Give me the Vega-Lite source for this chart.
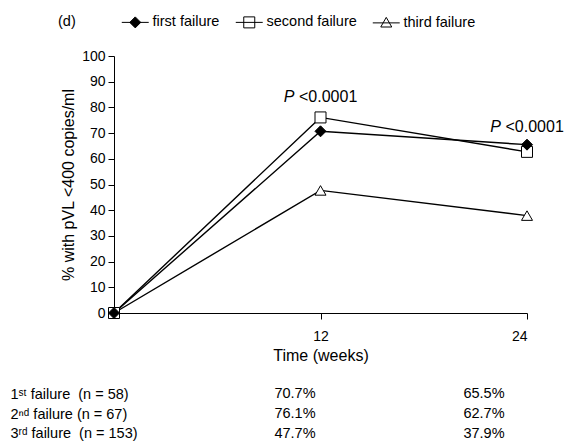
{
  "$schema": "https://vega.github.io/schema/vega-lite/v6.json",
  "padding": {"left": 10, "top": 15, "right": 3, "bottom": 3},
  "background": "white",
  "config": {
    "view": {"stroke": null},
    "font": "Liberation Sans",
    "axis": {
      "grid": false,
      "domainColor": "black",
      "tickColor": "black",
      "labelColor": "black",
      "titleColor": "black",
      "labelFontSize": 14,
      "titleFontSize": 16,
      "titleFontWeight": "normal",
      "labelOverlap": false
    },
    "legend": {
      "orient": "none",
      "legendX": -56,
      "legendY": -41,
      "direction": "horizontal",
      "titleOrient": "left",
      "titleFontSize": 14.5,
      "titleFontWeight": "normal",
      "titleColor": "black",
      "titlePadding": 52,
      "labelFontSize": 14.5,
      "labelColor": "black",
      "symbolSize": 121,
      "symbolOpacity": 1,
      "symbolStrokeWidth": 1,
      "labelOffset": 10,
      "columnPadding": 13,
      "padding": 0
    },
    "text": {"color": "black"}
  },
  "datasets": {
    "series": [
      {"series": "third failure", "week": 0, "pct": 0},
      {"series": "third failure", "week": 12, "pct": 47.7},
      {"series": "third failure", "week": 24, "pct": 37.9},
      {"series": "second failure", "week": 0, "pct": 0},
      {"series": "second failure", "week": 12, "pct": 76.1},
      {"series": "second failure", "week": 24, "pct": 62.7},
      {"series": "first failure", "week": 0, "pct": 0},
      {"series": "first failure", "week": 12, "pct": 70.7},
      {"series": "first failure", "week": 24, "pct": 65.5}
    ],
    "notes": [
      {"week": 12, "pct": 84, "p": "<0.0001"},
      {"week": 24, "pct": 72.4, "p": "<0.0001"}
    ],
    "table": [
      {"group": "1ˢᵗ failure\u00a0 (n = 58)", "week": 12, "pct": 0.707},
      {"group": "1ˢᵗ failure\u00a0 (n = 58)", "week": 24, "pct": 0.655},
      {"group": "2ⁿᵈ failure (n = 67)", "week": 12, "pct": 0.761},
      {"group": "2ⁿᵈ failure (n = 67)", "week": 24, "pct": 0.627},
      {"group": "3ʳᵈ failure\u00a0 (n = 153)", "week": 12, "pct": 0.477},
      {"group": "3ʳᵈ failure\u00a0 (n = 153)", "week": 24, "pct": 0.379}
    ]
  },
  "bounds": "flush",
  "spacing": 71.5,
  "vconcat": [
    {
      "width": 413,
      "height": 257,
      "resolve": {"scale": {"shape": "independent", "fill": "independent"}},
      "encoding": {
        "x": {"field": "week", "type": "quantitative", "scale": {"domain": [0, 24]},
          "axis": {"values": [12, 24], "tickCount": 2, "title": "Time (weeks)", "tickSize": 6, "labelPadding": 10, "titlePadding": 4}},
        "y": {"field": "pct", "type": "quantitative", "scale": {"domain": [0, 100]},
          "axis": {"values": [0, 10, 20, 30, 40, 50, 60, 70, 80, 90, 100], "tickCount": 11, "title": "% with pVL <400 copies/ml", "tickSize": 6, "labelPadding": 3, "titlePadding": 5}}
      },
      "layer": [
        {
          "data": {"name": "series"},
          "mark": {"type": "line", "stroke": "black", "strokeWidth": 1.4},
          "encoding": {
            "detail": {"field": "series", "type": "nominal"}
          }
        },
        {
          "data": {"name": "series"},
          "mark": {"type": "point", "filled": true, "size": 121, "stroke": "black", "strokeWidth": 1, "opacity": 1},
          "encoding": {
            "shape": {
              "field": "series", "type": "nominal",
              "scale": {"domain": ["first failure", "second failure", "third failure"], "range": ["diamond", "square", "triangle-up"]},
              "legend": null
            },
            "fill": {
              "field": "series", "type": "nominal",
              "scale": {"range": ["black", "white", "white"]},
              "legend": null
            }
          }
        },
        {
          "data": {"name": "series"},
          "mark": {"type": "point", "filled": true, "size": 121, "stroke": "black", "strokeWidth": 1, "opacity": 0},
          "encoding": {
            "shape": {
              "field": "series", "type": "nominal",
              "scale": {"domain": ["first failure", "second failure", "third failure"],
                "range": ["M-2.45,0H2.45M0,-1L1,0L0,1L-1,0Z", "M-2.45,0H2.45M-1,-1H1V1H-1Z", "M-2.45,0H2.45M0,-1L1,0.75H-1Z"]},
              "legend": {"title": "(d)", "encode": {"symbols": {"stroke": {"value": "black"}, "strokeWidth": {"value": 1}}}}
            },
            "fill": {
              "field": "series", "type": "nominal",
              "scale": {"domain": ["first failure", "second failure", "third failure"], "range": ["black", "white", "white"]},
              "legend": {"title": "(d)", "encode": {"symbols": {"stroke": {"value": "black"}, "strokeWidth": {"value": 1}}}}
            }
          }
        },
        {
          "data": {"name": "notes"},
          "mark": {"type": "text", "fontStyle": "italic", "fontSize": 16, "align": "right", "baseline": "middle", "dx": -26},
          "encoding": {
            "text": {"value": "P"}
          }
        },
        {
          "data": {"name": "notes"},
          "mark": {"type": "text", "fontSize": 16, "align": "left", "baseline": "middle", "dx": -21.5},
          "encoding": {
            "text": {"field": "p", "type": "nominal"}
          }
        }
      ]
    },
    {
      "width": 378,
      "height": 59,
      "data": {"name": "table"},
      "mark": {"type": "text", "fontSize": 14.5, "dx": -8, "baseline": "middle"},
      "encoding": {
        "x": {"field": "week", "type": "quantitative", "scale": {"domain": [0, 24]}, "axis": null},
        "y": {"field": "group", "type": "nominal", "sort": null,
          "axis": {"title": null, "ticks": false, "domain": false, "labelAlign": "left", "labelPadding": 104, "labelFontSize": 14.5, "labelBaseline": "middle"}},
        "text": {"field": "pct", "type": "quantitative", "format": ".1%"}
      }
    }
  ]
}
